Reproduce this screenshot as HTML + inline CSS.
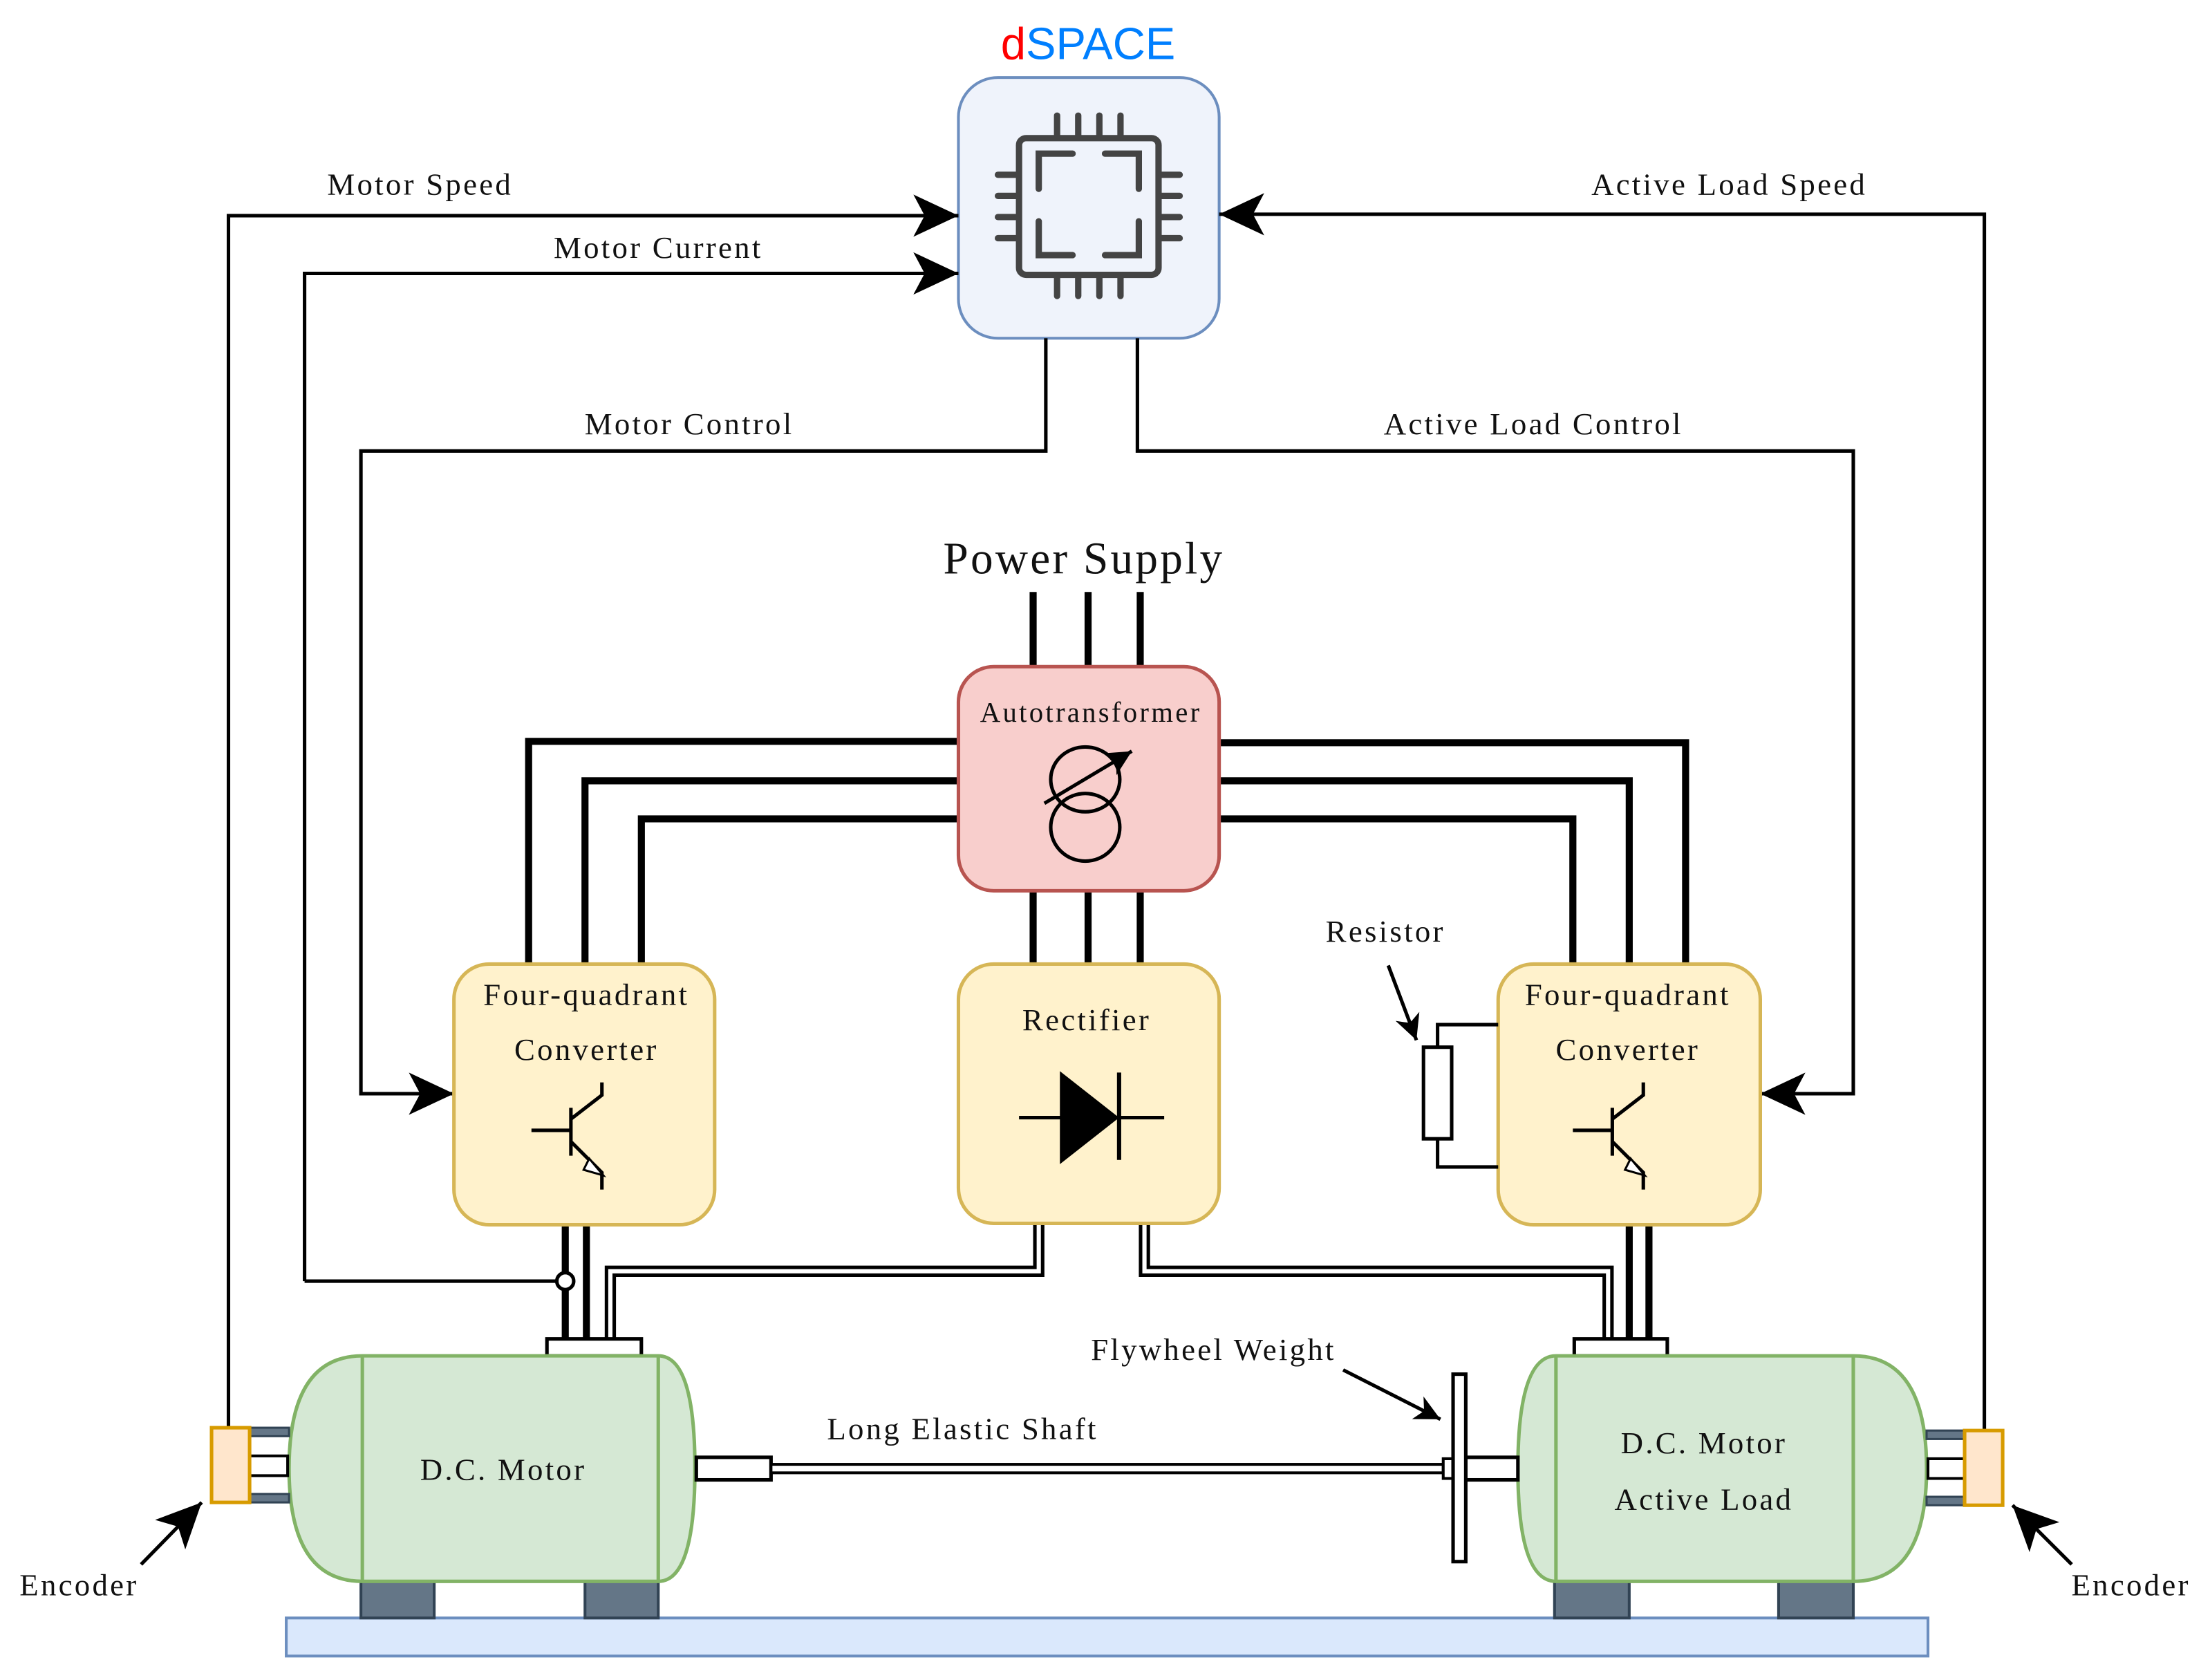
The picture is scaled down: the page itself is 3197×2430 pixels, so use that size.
<!DOCTYPE html>
<html><head><meta charset="utf-8"><style>
html,body{margin:0;padding:0;background:#fff;}
svg{display:block;}
text{font-family:"Liberation Serif",serif;fill:#111;letter-spacing:1.6px;}
</style></head><body>
<svg width="3197" height="2430" viewBox="0 0 1568 1192" xmlns="http://www.w3.org/2000/svg">
<defs>
<marker id="a" markerUnits="userSpaceOnUse" markerWidth="34" markerHeight="30" refX="32" refY="15" orient="auto">
<path d="M0,0 L32,15 L0,30 L8,15 Z" fill="#000"/>
</marker>
<marker id="s" markerUnits="userSpaceOnUse" markerWidth="20" markerHeight="18" refX="18" refY="9" orient="auto">
<path d="M0,0 L18,9 L0,18 L5,9 Z" fill="#000"/>
</marker>
</defs>

<text x="772" y="42" text-anchor="middle" style="font-family:'Liberation Sans',sans-serif;font-size:32px;letter-spacing:0"><tspan fill="#ff0000">d</tspan><tspan fill="#007fff">SPACE</tspan></text>
<rect x="680" y="55" width="185" height="185" rx="28" fill="#eff3fb" stroke="#6c8ebf" stroke-width="2"/>
<g stroke="#444" stroke-width="4.5" stroke-linecap="round" fill="none">
<rect x="723" y="98" width="99" height="97" rx="5"/>
<path d="M737,134 V109 H761 M784,109 H808 V134 M808,157 V181 H784 M761,181 H737 V157"/>
<path d="M750,82 V96 M765,82 V96 M780,82 V96 M795,82 V96 M750,197 V210 M765,197 V210 M780,197 V210 M795,197 V210"/>
<path d="M708,124 H721 M708,139 H721 M708,154 H721 M708,169 H721 M824,124 H837 M824,139 H837 M824,154 H837 M824,169 H837"/>
</g>

<g fill="none" stroke="#000" stroke-width="2.5">
<path d="M162,1013 V153 H680" marker-end="url(#a)"/>
<path d="M216,909 V194 H680" marker-end="url(#a)"/>
<path d="M1408,1015 V152 H865" marker-end="url(#a)"/>
<path d="M742,240 V320 H256 V776 H322" marker-end="url(#a)"/>
<path d="M807,240 V320 H1315 V776 H1249" marker-end="url(#a)"/>
</g>
<g style="font-size:22px" text-anchor="middle">
<text x="298" y="138">Motor Speed</text>
<text x="467" y="183">Motor Current</text>
<text x="1227" y="138">Active Load Speed</text>
<text x="489" y="308">Motor Control</text>
<text x="1088" y="308">Active Load Control</text>
</g>

<text x="769" y="407" text-anchor="middle" style="font-size:32px">Power Supply</text>

<g fill="none" stroke="#000" stroke-width="5">
<path d="M733,420 V473 M772,420 V473 M809,420 V473"/>
<path d="M733,632 V684 M772,632 V684 M809,632 V684"/>
<path d="M680,526 H375 V684 M680,554 H415 V684 M680,581 H455 V684"/>
<path d="M865,527 H1196 V684 M865,554 H1156 V684 M865,581 H1116 V684"/>
<path d="M401,869 V950 M416,869 V950 M1156,869 V950 M1170,869 V950"/>
</g>
<g fill="none">
<path d="M737,869 V902 H433 V950" stroke="#000" stroke-width="8"/>
<path d="M737,869 V902 H433 V950" stroke="#fff" stroke-width="3"/>
<path d="M812,869 V902 H1141 V950" stroke="#000" stroke-width="8"/>
<path d="M812,869 V902 H1141 V950" stroke="#fff" stroke-width="3"/>
</g>
<path d="M216,909 H395" stroke="#000" stroke-width="2.5" fill="none"/>
<circle cx="401" cy="909" r="6" fill="#fff" stroke="#000" stroke-width="2.5"/>

<rect x="680" y="473" width="185" height="159" rx="25" fill="#f8cecc" stroke="#b85450" stroke-width="2.5"/>
<text x="774" y="512" text-anchor="middle" style="font-size:20px">Autotransformer</text>
<g fill="none" stroke="#000" stroke-width="2.5">
<ellipse cx="770" cy="553" rx="24.5" ry="23"/>
<ellipse cx="770" cy="587" rx="24.5" ry="24"/>
<path d="M741,570 L803,533" marker-end="url(#s)"/>
</g>

<rect x="680" y="684" width="185" height="184" rx="25" fill="#fff2cc" stroke="#d6b656" stroke-width="2.5"/>
<text x="771" y="731" text-anchor="middle" style="font-size:22px">Rectifier</text>
<path d="M723,793 H826" stroke="#000" stroke-width="2.5"/>
<path d="M752,760 L794,793 L752,826 Z" fill="#000"/>
<path d="M794,761 V823" stroke="#000" stroke-width="3"/>

<g>
<rect x="322" y="684" width="185" height="185" rx="25" fill="#fff2cc" stroke="#d6b656" stroke-width="2.5"/>
<text x="416" y="713" text-anchor="middle" style="font-size:22px">Four-quadrant</text>
<text x="416" y="752" text-anchor="middle" style="font-size:22px">Converter</text>
<g fill="none" stroke="#000" stroke-width="2.5">
<path d="M377,802 H405 M405,786 V820 M405,794 L427,777 V768 M405,810 L427,832 V844"/>
</g>
<path d="M418,822 L428,834 L414,830 Z" fill="#fff" stroke="#000" stroke-width="1.5"/>
</g>
<g>
<rect x="1063" y="684" width="186" height="185" rx="25" fill="#fff2cc" stroke="#d6b656" stroke-width="2.5"/>
<text x="1155" y="713" text-anchor="middle" style="font-size:22px">Four-quadrant</text>
<text x="1155" y="752" text-anchor="middle" style="font-size:22px">Converter</text>
<g fill="none" stroke="#000" stroke-width="2.5">
<path d="M1116,802 H1144 M1144,786 V820 M1144,794 L1166,777 V768 M1144,810 L1166,832 V844"/>
</g>
<path d="M1157,822 L1167,834 L1153,830 Z" fill="#fff" stroke="#000" stroke-width="1.5"/>
</g>

<path d="M1063,727 H1020 V743 M1020,808 V828 H1063" fill="none" stroke="#000" stroke-width="2.5"/>
<rect x="1010" y="743" width="20" height="65" fill="#fff" stroke="#000" stroke-width="2.5"/>
<text x="983" y="668" text-anchor="middle" style="font-size:22px">Resistor</text>
<path d="M985,685 L1005,738" stroke="#000" stroke-width="2.5" marker-end="url(#s)"/>

<rect x="203" y="1148" width="1165" height="27" fill="#dae8fc" stroke="#6c8ebf" stroke-width="2"/>
<g fill="#647687" stroke="#314354" stroke-width="2">
<rect x="256" y="1122" width="52" height="26"/>
<rect x="415" y="1122" width="52" height="26"/>
<rect x="1103" y="1122" width="53" height="26"/>
<rect x="1262" y="1122" width="53" height="26"/>
</g>

<rect x="388" y="950" width="67" height="12" fill="#fff" stroke="#000" stroke-width="2.5"/>
<rect x="1117" y="950" width="66" height="12" fill="#fff" stroke="#000" stroke-width="2.5"/>

<path d="M257,962 H467 Q493,962 493,1042 Q493,1122 467,1122 H257 Q205,1122 205,1042 Q205,962 257,962 Z" fill="#d5e8d4" stroke="#82b366" stroke-width="2.5"/>
<path d="M257,962 V1122 M467,962 V1122" stroke="#82b366" stroke-width="2.5"/>
<text x="357" y="1050" text-anchor="middle" style="font-size:22px">D.C. Motor</text>

<path d="M1104,962 H1315 Q1367,962 1367,1042 Q1367,1122 1315,1122 H1104 Q1077,1122 1077,1042 Q1077,962 1104,962 Z" fill="#d5e8d4" stroke="#82b366" stroke-width="2.5"/>
<path d="M1104,962 V1122 M1315,962 V1122" stroke="#82b366" stroke-width="2.5"/>
<text x="1209" y="1031" text-anchor="middle" style="font-size:22px">D.C. Motor</text>
<text x="1209" y="1071" text-anchor="middle" style="font-size:22px">Active Load</text>

<g>
<rect x="177" y="1013" width="28" height="6" fill="#647687" stroke="#314354" stroke-width="1.5"/>
<rect x="177" y="1060" width="28" height="6" fill="#647687" stroke="#314354" stroke-width="1.5"/>
<rect x="177" y="1033" width="27" height="14" fill="#fff" stroke="#000" stroke-width="2"/>
<rect x="150" y="1013" width="27" height="53" fill="#ffe6cc" stroke="#d79b00" stroke-width="2.5"/>
</g>
<g>
<rect x="1367" y="1015" width="27" height="6" fill="#647687" stroke="#314354" stroke-width="1.5"/>
<rect x="1367" y="1062" width="27" height="6" fill="#647687" stroke="#314354" stroke-width="1.5"/>
<rect x="1368" y="1035" width="26" height="14" fill="#fff" stroke="#000" stroke-width="2"/>
<rect x="1394" y="1015" width="27" height="53" fill="#ffe6cc" stroke="#d79b00" stroke-width="2.5"/>
</g>
<text x="56" y="1132" text-anchor="middle" style="font-size:22px">Encoder</text>
<text x="1512" y="1132" text-anchor="middle" style="font-size:22px">Encoder</text>
<path d="M100,1110 L143,1066" stroke="#000" stroke-width="2.5" marker-end="url(#a)"/>
<path d="M1470,1110 L1428,1068" stroke="#000" stroke-width="2.5" marker-end="url(#a)"/>

<rect x="494" y="1034" width="53" height="16" fill="#fff" stroke="#000" stroke-width="2.5"/>
<rect x="547" y="1039" width="477" height="6" fill="#fff" stroke="#000" stroke-width="2"/>
<rect x="1024" y="1035" width="8" height="14" fill="#fff" stroke="#000" stroke-width="2"/>
<rect x="1040" y="1034" width="37" height="16" fill="#fff" stroke="#000" stroke-width="2.5"/>
<rect x="1031" y="975" width="9" height="133" fill="#fff" stroke="#000" stroke-width="2.5"/>
<text x="683" y="1021" text-anchor="middle" style="font-size:22px">Long Elastic Shaft</text>
<text x="861" y="965" text-anchor="middle" style="font-size:22px">Flywheel Weight</text>
<path d="M953,972 L1022,1007" stroke="#000" stroke-width="2.5" marker-end="url(#s)"/>
</svg>
</body></html>
